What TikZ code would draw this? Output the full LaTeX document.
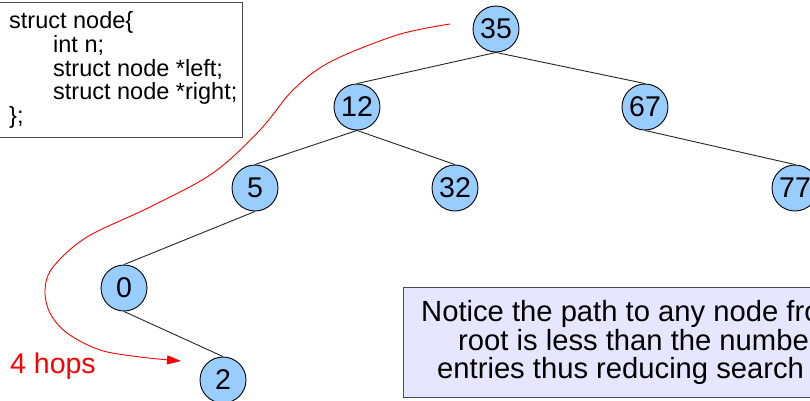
\documentclass[tikz,border=0pt]{standalone}
\usepackage{fontspec}
\setmainfont{Liberation Sans}
\usetikzlibrary{arrows.meta}
\definecolor{nodeblue}{HTML}{99CCFF}
\definecolor{notefill}{HTML}{E6E6FF}
\definecolor{hopred}{HTML}{FF0000}
\tikzset{
  tnode/.style={circle, draw=black, line width=0.9pt, fill=nodeblue, minimum size=46pt, inner sep=0pt, font=\fontsize{28.5}{30}\selectfont},
  tedge/.style={draw=black!85, line width=0.9pt},
  codeline/.style={anchor=base west, inner sep=0pt, font=\fontsize{23.5}{24}\selectfont},
  noteline/.style={anchor=base west, inner sep=0pt, font=\fontsize{29.2}{30}\selectfont},
}
\begin{document}
\begin{tikzpicture}[x=1pt,y=-1pt]
\path[use as bounding box] (0,0) rectangle (810,400);
\clip (0,0) rectangle (810,400);
\fill[white] (0,0) rectangle (810,400);
% struct box
\node[draw=black!70, line width=0.9pt, fill=white, anchor=north west, minimum width=243pt, minimum height=135pt, inner sep=0pt] (code) at (-1,2) {};
\node[codeline] (c1) at (9,28) {struct node\{};
\node[codeline] (c2) at (53,52) {int n;};
\node[codeline] (c3) at (53,76) {struct node *left;};
\node[codeline] (c4) at (53,99) {struct node *right;};
\node[codeline] (c5) at (9,123) {\};};
% tree nodes
\node[tnode] (n35) at (496,29) {35};
\node[tnode] (n12) at (357,107) {12};
\node[tnode] (n67) at (645,107) {67};
\node[tnode] (n5) at (255,188) {5};
\node[tnode] (n32) at (455,188) {32};
\node[tnode] (n77) at (795,188) {77};
\node[tnode] (n0) at (124,288) {0};
\node[tnode] (n2) at (223,380) {2};
\draw[tedge] (n35.south) -- (n12.north);
\draw[tedge] (n35.south) -- (n67.north);
\draw[tedge] (n12.south) -- (n5.north);
\draw[tedge] (n12.south) -- (n32.north);
\draw[tedge] (n67.south) -- (n77.north);
\draw[tedge] (n5.south) -- (n0.north);
\draw[tedge] (n0.south) -- (n2.north);
% note box
\node[draw=black!70, line width=0.9pt, fill=notefill, anchor=north west, minimum width=480pt, minimum height=110pt, inner sep=0pt] (note) at (403,287) {};
\node[noteline] (t1) at (421,321) {Notice the path to any node from the};
\node[noteline] (t2) at (458,350) {root is less than the number of};
\node[noteline] (t3) at (437,378) {entries thus reducing search time};
% red path
\coordinate (rs) at (450,24);
\coordinate (re) at (181,361);
\draw[hopred, line width=0.9pt, -{Triangle[length=14pt,width=9pt]}] plot[smooth, tension=0.55] coordinates {(rs) (397,35) (330,62) (293,90) (260,130) (213,173) (150,207) (87,237) (53,267) (45,290) (50,313) (67,333) (100,350) (140,357) (re)};
\node[anchor=base west, inner sep=0pt, text=hopred, font=\fontsize{28.5}{30}\selectfont] (hops) at (10,373) {4 hops};
\end{tikzpicture}
\end{document}
